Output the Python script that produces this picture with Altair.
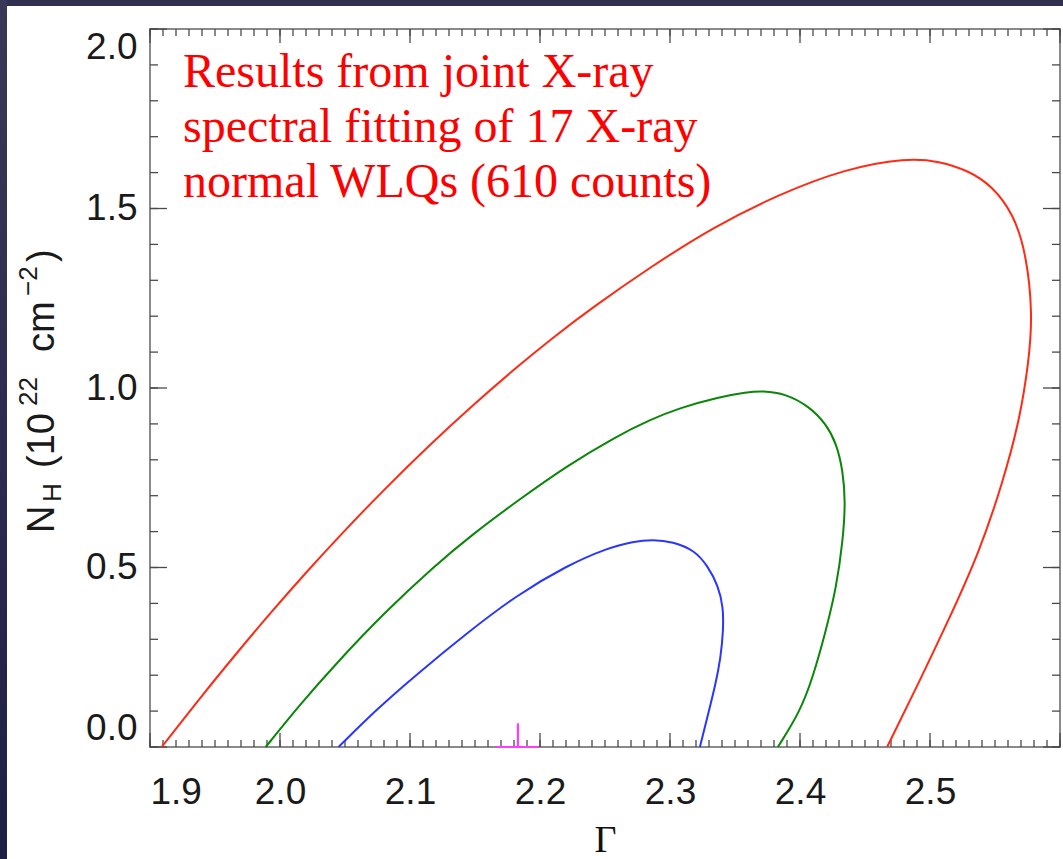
import altair as alt
import pandas as pd

# Confidence contours in the (photon index, intrinsic column density) plane
red_gamma = [1.909, 1.941, 1.967, 1.992, 2.021, 2.046, 2.080, 2.115, 2.146, 2.182,
             2.208, 2.241, 2.285, 2.333, 2.384, 2.435, 2.482, 2.507, 2.530, 2.548,
             2.564, 2.574, 2.579, 2.576, 2.569, 2.556, 2.538, 2.512, 2.492, 2.467]
red_nh = [0.000, 0.148, 0.263, 0.371, 0.490, 0.589, 0.717, 0.841, 0.945, 1.058,
          1.135, 1.226, 1.337, 1.448, 1.540, 1.611, 1.641, 1.632, 1.605, 1.562,
          1.486, 1.377, 1.204, 1.074, 0.911, 0.738, 0.542, 0.336, 0.184, 0.000]

green_gamma = [1.989, 2.015, 2.044, 2.080, 2.118, 2.149, 2.182, 2.221, 2.259, 2.285,
               2.307, 2.338, 2.359, 2.371, 2.389, 2.407, 2.420, 2.428, 2.433, 2.435,
               2.433, 2.428, 2.420, 2.410, 2.400, 2.383]
green_nh = [0.000, 0.117, 0.236, 0.373, 0.502, 0.595, 0.684, 0.784, 0.866, 0.912,
            0.944, 0.975, 0.988, 0.992, 0.984, 0.949, 0.900, 0.846, 0.770, 0.683,
            0.575, 0.445, 0.325, 0.195, 0.098, 0.000]

blue_gamma = [2.045, 2.074, 2.105, 2.144, 2.182, 2.221, 2.251, 2.272, 2.287, 2.302,
              2.319, 2.329, 2.337, 2.341, 2.341, 2.339, 2.335, 2.329, 2.323]
blue_nh = [0.000, 0.104, 0.202, 0.318, 0.423, 0.506, 0.553, 0.573, 0.578, 0.572,
           0.548, 0.504, 0.450, 0.390, 0.325, 0.249, 0.174, 0.087, 0.000]

# Best-fit point with its error bars
best_gamma = 2.183
best_gamma_lo = 2.166
best_gamma_hi = 2.199
best_nh = 0.0
best_nh_hi = 0.066

# Axis ticks
x_major = [1.9, 2.0, 2.1, 2.2, 2.3, 2.4, 2.5, 2.6]
x_labels = [1.9, 2.0, 2.1, 2.2, 2.3, 2.4, 2.5]
y_major = [0.0, 0.5, 1.0, 1.5, 2.0]
x_minor = [round(1.9 + 0.01 * i, 2) for i in range(71)]
y_minor = [round(0.1 * i, 1) for i in range(21)]

W, H = 910, 718
PAD = {"left": 150, "top": 29, "right": 3, "bottom": 112}

rows = []
for name, gs, ns in [("red", red_gamma, red_nh), ("green", green_gamma, green_nh),
                     ("blue", blue_gamma, blue_nh)]:
    for i, (g, n) in enumerate(zip(gs, ns)):
        rows.append({"contour": name, "i": i, "gx": g, "ny": n})
contours = pd.DataFrame(rows)

xs = alt.Scale(domain=[1.9, 2.6], nice=False, zero=False)
ys = alt.Scale(domain=[0.0, 2.0], nice=False, zero=False)

x_axis = alt.Axis(values=x_labels, format=".1f", ticks=False, domain=False, grid=False,
                  labelFont="Liberation Sans", labelFontSize=37, labelColor="#1a1a1a",
                  labelPadding=27, title="Γ", titleFont="Liberation Serif",
                  titleFontSize=38, titleFontWeight="normal", titleColor="#111",
                  titlePadding=11)
y_axis = alt.Axis(values=y_major, format=".1f", ticks=False, domain=False, grid=False,
                  labelFont="Liberation Sans", labelFontSize=37, labelColor="#1a1a1a",
                  labelPadding=13, labelFlush=True, title=None)

X = alt.X("gx:Q", scale=xs, axis=x_axis)
Y = alt.Y("ny:Q", scale=ys, axis=y_axis)

# B-spline smoothing through the traced contour vertices
lines = alt.Chart(contours).mark_line(strokeWidth=2, interpolate="basis").encode(
    x=X, y=Y, order="i:Q",
    color=alt.Color("contour:N", legend=None,
                    scale=alt.Scale(domain=["red", "green", "blue"],
                                    range=["#ff2a14", "#0a860a", "#2a36ff"])),
    detail="contour:N",
)

TICK = "#4a4a4a"


def ticks_x(vals, length):
    df = pd.DataFrame({"gx": vals})
    bottom = alt.Chart(df).mark_rule(color=TICK, strokeWidth=1.3).encode(
        x=X, y=alt.value(H), y2=alt.value(H - length))
    top = alt.Chart(df).mark_rule(color=TICK, strokeWidth=1.3).encode(
        x=X, y=alt.value(0), y2=alt.value(length))
    return bottom + top


def ticks_y(vals, length):
    df = pd.DataFrame({"ny": vals})
    left = alt.Chart(df).mark_rule(color=TICK, strokeWidth=1.3).encode(
        y=Y, x=alt.value(0), x2=alt.value(length))
    right = alt.Chart(df).mark_rule(color=TICK, strokeWidth=1.3).encode(
        y=Y, x=alt.value(W), x2=alt.value(W - length))
    return left + right


best_h = alt.Chart(pd.DataFrame({"gx": [best_gamma_lo], "gx2": [best_gamma_hi],
                                 "ny": [best_nh]})).mark_rule(
    color="#ff3cff", strokeWidth=2.2).encode(x=X, x2="gx2:Q", y=Y)
best_v = alt.Chart(pd.DataFrame({"gx": [best_gamma], "ny": [best_nh],
                                 "ny2": [best_nh_hi]})).mark_rule(
    color="#ff3cff", strokeWidth=2.2).encode(x=X, y=Y, y2="ny2:Q")

note = alt.Chart(pd.DataFrame({"t": [["Results from joint X-ray",
                                      "spectral fitting of 17 X-ray",
                                      "normal WLQs (610 counts)"]]})).mark_text(
    font="Liberation Serif", fontSize=48, color="#ff0000", align="left",
    baseline="alphabetic", lineHeight=55).encode(
    text="t", x=alt.value(33), y=alt.value(58))


def piece(txt, x, y, size):
    return alt.Chart(pd.DataFrame({"t": [txt]})).mark_text(
        font="Liberation Sans", fontSize=size, color="#1a1a1a", angle=270,
        align="left", baseline="alphabetic").encode(
        text="t", x=alt.value(x), y=alt.value(y))


ytitle = (piece("N", -96, 504, 38) + piece("H", -89, 473, 26) +
          piece("(10", -96, 439, 38) + piece("22", -113, 377, 26) +
          piece("cm", -96, 323, 38) + piece("−2", -113, 267, 26) +
          piece(")", -96, 233, 38))

# dark slide border along the top and left edges
one = pd.DataFrame({"k": [0]})
top_strip = alt.Chart(one).mark_rect(color="#302f50").encode(
    x=alt.value(-PAD["left"]), x2=alt.value(W + PAD["right"]),
    y=alt.value(-PAD["top"]), y2=alt.value(-PAD["top"] + 6))
left_strip = alt.Chart(one).mark_rect(
    color=alt.Gradient(gradient="linear", x1=0, y1=0, x2=0, y2=1,
                       stops=[alt.GradientStop(color="#393859", offset=0),
                              alt.GradientStop(color="#1e2042", offset=1)])).encode(
    x=alt.value(-PAD["left"]), x2=alt.value(-PAD["left"] + 7),
    y=alt.value(-PAD["top"]), y2=alt.value(H + PAD["bottom"]))

chart = alt.layer(
    top_strip, left_strip,
    ticks_x(x_minor, 7), ticks_x(x_major, 14),
    ticks_y(y_minor, 8), ticks_y(y_major, 17),
    lines, best_h, best_v, note, ytitle,
).properties(
    width=W, height=H,
    autosize=alt.AutoSizeParams(type="none"),
    padding=PAD,
    background="white",
).configure_view(stroke="#8a8a8a", strokeWidth=2)

chart.save("out.html", embed_options={"renderer": "svg", "actions": False})
